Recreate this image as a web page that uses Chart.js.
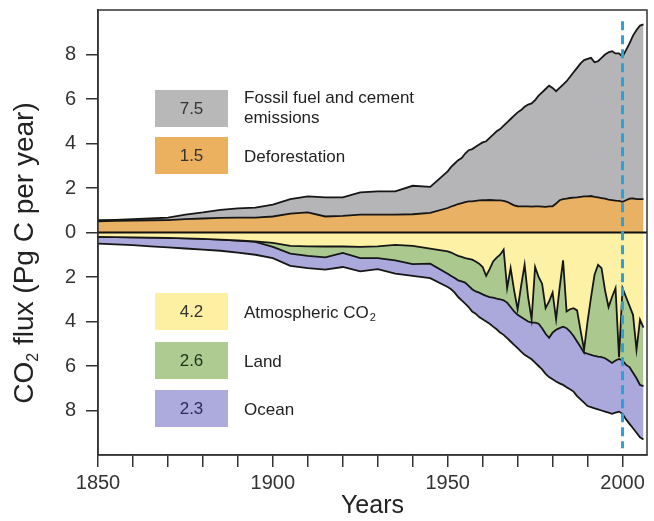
<!DOCTYPE html>
<html>
<head>
<meta charset="utf-8">
<script src="https://cdn.jsdelivr.net/npm/chart.js@4.4.0/dist/chart.umd.min.js"></script>
<style>
  html, body { margin: 0; padding: 0; background: #fff; }
</style>
</head>
<body>
<canvas id="fluxChart" width="654" height="521"></canvas>
<script>
const years = [1850, 1855, 1860, 1865, 1870, 1875, 1880, 1885, 1890, 1895, 1900, 1905, 1910, 1915, 1920, 1925, 1930, 1935, 1940, 1945, 1950,
  1951, 1952, 1953, 1954, 1955, 1956, 1957, 1958, 1959, 1960,
  1961, 1962, 1963, 1964, 1965, 1966, 1967, 1968, 1969, 1970,
  1971, 1972, 1973, 1974, 1975, 1976, 1977, 1978, 1979, 1980,
  1981, 1982, 1983, 1984, 1985, 1986, 1987, 1988, 1989, 1990,
  1991, 1992, 1993, 1994, 1995, 1996, 1997, 1998, 1999, 2000,
  2001, 2002, 2003, 2004, 2005, 2006];

// sources (stacked upwards from zero)
const deforestation = [0.5, 0.52, 0.54, 0.55, 0.56, 0.6, 0.63, 0.66, 0.67, 0.67, 0.72, 0.85, 0.9, 0.72, 0.75, 0.8, 0.8, 0.8, 0.82, 0.88, 1.1,
  1.17, 1.22, 1.28, 1.32, 1.37, 1.4, 1.4, 1.42, 1.44, 1.45,
  1.45, 1.46, 1.45, 1.44, 1.44, 1.42, 1.38, 1.3, 1.22, 1.18,
  1.17, 1.17, 1.17, 1.16, 1.17, 1.17, 1.16, 1.15, 1.17, 1.18,
  1.3, 1.45, 1.5, 1.52, 1.55, 1.57, 1.58, 1.6, 1.62, 1.62,
  1.64, 1.6, 1.58, 1.55, 1.52, 1.48, 1.46, 1.43, 1.42, 1.38,
  1.45, 1.52, 1.53, 1.5, 1.5, 1.5];
const fossilPlusDeforestation = [0.55, 0.57, 0.6, 0.63, 0.67, 0.8, 0.9, 1.02, 1.08, 1.12, 1.25, 1.5, 1.62, 1.58, 1.58, 1.8, 1.85, 1.85, 2.1, 2.05, 2.75,
  2.95, 3.1, 3.25, 3.35, 3.55, 3.7, 3.75, 3.85, 3.95, 4.05,
  4.1, 4.25, 4.4, 4.55, 4.65, 4.8, 4.95, 5.1, 5.25, 5.4,
  5.5, 5.65, 5.75, 5.8, 5.95, 6.15, 6.3, 6.45, 6.6, 6.5,
  6.35, 6.5, 6.65, 6.8, 7.0, 7.2, 7.4, 7.6, 7.75, 7.8,
  7.85, 7.65, 7.7, 7.85, 8.0, 8.1, 8.15, 8.05, 8.05, 7.9,
  8.2, 8.5, 8.85, 9.1, 9.3, 9.35];

// sinks (stacked downwards from zero)
const atmospheric = [-0.2, -0.21, -0.22, -0.23, -0.24, -0.26, -0.29, -0.32, -0.36, -0.4, -0.47, -0.6, -0.62, -0.63, -0.63, -0.65, -0.62, -0.56, -0.6, -0.72, -0.85,
  -0.9, -0.98, -1.05, -1.1, -1.15, -1.18, -1.22, -1.3, -1.4, -1.55,
  -1.95, -1.65, -1.3, -1.13, -1.0, -0.77, -2.5, -1.6, -2.6, -3.45,
  -2.4, -1.45, -2.9, -3.9, -1.55, -2.0, -2.3, -3.4, -3.1, -2.7,
  -3.9, -2.5, -1.25, -3.55, -3.45, -3.4, -3.5, -4.4, -5.27, -4.0,
  -2.9, -1.9, -1.45, -1.6, -2.6, -3.35, -2.9, -2.5, -5.6, -2.5,
  -2.9, -3.3, -3.7, -5.27, -3.92, -4.28];
const atmosphericPlusLand = [-0.2, -0.21, -0.22, -0.23, -0.24, -0.26, -0.29, -0.32, -0.36, -0.42, -0.65, -0.95, -1.05, -1.12, -0.92, -1.15, -1.15, -1.25, -1.42, -1.4, -1.85,
  -1.95, -2.05, -2.15, -2.2, -2.25, -2.4, -2.55, -2.65, -2.7, -2.78,
  -2.85, -2.9, -2.93, -2.97, -3.0, -3.05, -3.15, -3.35, -3.55, -3.7,
  -3.8, -3.9, -4.0, -4.05, -4.05, -4.1, -4.3, -4.55, -4.73, -4.5,
  -4.37, -4.3, -4.23, -4.3, -4.45, -4.65, -4.9, -5.15, -5.4, -5.45,
  -5.5, -5.55, -5.58, -5.6, -5.65, -5.75, -5.86, -5.75, -5.68, -5.75,
  -5.95, -6.05, -6.3, -6.55, -6.85, -6.9];
const totalSinks = [-0.5, -0.53, -0.57, -0.62, -0.67, -0.72, -0.77, -0.82, -0.9, -1.0, -1.15, -1.5, -1.6, -1.67, -1.55, -1.75, -1.65, -1.85, -1.95, -2.05, -2.45,
  -2.55, -2.7, -2.9, -3.05, -3.2, -3.35, -3.55, -3.65, -3.8, -3.9,
  -4.0, -4.1, -4.23, -4.35, -4.5, -4.6, -4.75, -4.9, -5.05, -5.2,
  -5.35, -5.5, -5.6, -5.7, -5.85, -6.0, -6.15, -6.35, -6.5, -6.6,
  -6.7, -6.78, -6.85, -6.95, -7.05, -7.15, -7.35, -7.5, -7.65, -7.8,
  -7.85, -7.9, -7.95, -8.0, -8.05, -8.1, -8.15, -8.1, -8.05, -8.15,
  -8.4, -8.6, -8.8, -9.0, -9.2, -9.3];

const tickYears = [1850, 1860, 1870, 1880, 1890, 1900, 1910, 1920, 1930, 1940, 1950, 1960, 1970, 1980, 1990, 2000];
const labelYears = [1850, 1900, 1950, 2000];

// legend: 2000-2006 mean fluxes
const legendValues = ["7.5", "1.5", "4.2", "2.6", "2.3"];
const legendNames = [["Fossil fuel and cement", "emissions"], ["Deforestation"], ["Atmospheric CO"], ["Land"], ["Ocean"]];

const FONT = "'Liberation Sans', Arial, Helvetica, sans-serif";
const colors = {
  fossil: "#b5b5b7", deforest: "#e9b163", atm: "#fcf1a5", land: "#abc98f", ocean: "#aba8dc"
};

function pts(arr) {
  return years.map((yr, i) => ({ x: yr, y: arr[i] }));
}

const lineStyle = { borderColor: "#161616", borderWidth: 1.8, pointRadius: 0, tension: 0 };

const decorations = {
  id: "decorations",
  afterDatasetsDraw(chart) {
    const { ctx, chartArea: a, scales: { x, y } } = chart;
    ctx.save();

    // zero line
    const y0 = y.getPixelForValue(0);
    ctx.strokeStyle = "#111";
    ctx.lineWidth = 2.2;
    ctx.beginPath();
    ctx.moveTo(a.left, y0);
    ctx.lineTo(a.right, y0);
    ctx.stroke();

    // year 2000 marker
    const xd = x.getPixelForValue(2000);
    ctx.strokeStyle = "#2f9fd8";
    ctx.lineWidth = 3;
    ctx.setLineDash([9, 5]);
    ctx.beginPath();
    ctx.moveTo(xd, y.getPixelForValue(9.5));
    ctx.lineTo(xd, y.getPixelForValue(-9.7));
    ctx.stroke();
    ctx.setLineDash([]);

    // frame
    ctx.strokeStyle = "#333";
    ctx.lineWidth = 1.5;
    ctx.strokeRect(a.left, a.top, a.right - a.left, a.bottom - a.top);

    // legend boxes
    const boxColors = ["#b8b8b9", "#ebb15f", "#fdf0a2", "#aecb92", "#adaade"];
    const boxTops = [90, 137, 293, 342, 390];
    const numColors = ["#333", "#333", "#333", "#24331c", "#2b2b55"];
    for (let i = 0; i < legendValues.length; i++) {
      const top = boxTops[i];
      ctx.fillStyle = boxColors[i];
      ctx.fillRect(155, top, 73, 37);
      ctx.fillStyle = numColors[i];
      ctx.font = "17px " + FONT;
      ctx.textAlign = "center";
      ctx.textBaseline = "middle";
      ctx.fillText(legendValues[i], 191.5, top + 19);
      ctx.fillStyle = "#222";
      ctx.textAlign = "left";
      const names = legendNames[i];
      if (names.length === 2) {
        ctx.fillText(names[0], 244, top + 8);
        ctx.fillText(names[1], 244, top + 28);
      } else {
        ctx.fillText(names[0], 244, top + 20);
        if (i === 2) {
          const w = ctx.measureText(names[0]).width;
          ctx.font = "11px " + FONT;
          ctx.fillText("2", 244 + w + 1, top + 25);
        }
      }
    }

    // axis titles
    ctx.fillStyle = "#222";
    ctx.textBaseline = "middle";
    ctx.textAlign = "center";
    ctx.font = "25px " + FONT;
    ctx.fillText("Years", (a.left + a.right) / 2, 506);

    ctx.translate(25, 253);
    ctx.rotate(-Math.PI / 2);
    ctx.textAlign = "left";
    const big = "28px " + FONT, small = "16px " + FONT;
    ctx.font = big;
    const w1 = ctx.measureText("CO").width;
    const w3 = ctx.measureText(" flux (Pg C per year)").width;
    ctx.font = small;
    const w2 = ctx.measureText("2").width;
    let cx = -(w1 + w2 + w3) / 2;
    ctx.font = big;
    ctx.fillText("CO", cx, 0);
    cx += w1;
    ctx.font = small;
    ctx.fillText("2", cx, 9);
    cx += w2;
    ctx.font = big;
    ctx.fillText(" flux (Pg C per year)", cx, 0);

    ctx.restore();
  }
};

new Chart(document.getElementById("fluxChart").getContext("2d"), {
  type: "line",
  data: {
    datasets: [
      { label: "Deforestation", data: pts(deforestation), fill: "origin", backgroundColor: colors.deforest, ...lineStyle },
      { label: "Fossil fuel and cement emissions", data: pts(fossilPlusDeforestation), fill: "-1", backgroundColor: colors.fossil, ...lineStyle },
      { label: "Atmospheric CO2", data: pts(atmospheric), fill: "origin", backgroundColor: colors.atm, ...lineStyle },
      { label: "Land", data: pts(atmosphericPlusLand), fill: "-1", backgroundColor: colors.land, ...lineStyle },
      { label: "Ocean", data: pts(totalSinks), fill: "-1", backgroundColor: colors.ocean, ...lineStyle }
    ]
  },
  options: {
    responsive: false,
    animation: false,
    layout: { padding: { top: 10, right: 7, left: 0, bottom: 0 } },
    plugins: { legend: { display: false }, tooltip: { enabled: false } },
    scales: {
      x: {
        type: "linear",
        min: 1850,
        max: 2007,
        afterBuildTicks: (s) => { s.ticks = tickYears.map((v) => ({ value: v })); },
        afterFit: (s) => { s.height = 66; s.paddingLeft = 0; s.paddingRight = 0; },
        ticks: {
          autoSkip: false,
          maxRotation: 0,
          padding: 4,
          color: "#333",
          font: { family: FONT, size: 20 },
          callback: (v) => (labelYears.includes(v) ? String(v) : "")
        },
        grid: { drawOnChartArea: false, tickLength: 12, color: "#333", lineWidth: 1.5 },
        border: { color: "#333", width: 1.5 }
      },
      y: {
        min: -10,
        max: 10,
        afterBuildTicks: (s) => { s.ticks = s.ticks.filter((t) => Math.abs(t.value) <= 8); },
        afterFit: (s) => { s.width = 98; s.paddingTop = 0; s.paddingBottom = 0; },
        ticks: {
          stepSize: 2,
          padding: 10,
          color: "#333",
          font: { family: FONT, size: 20 },
          callback: (v) => String(Math.abs(v))
        },
        grid: { drawOnChartArea: false, tickLength: 12, color: "#333", lineWidth: 1.5 },
        border: { color: "#333", width: 1.5 }
      }
    }
  },
  plugins: [decorations]
});
</script>
</body>
</html>
